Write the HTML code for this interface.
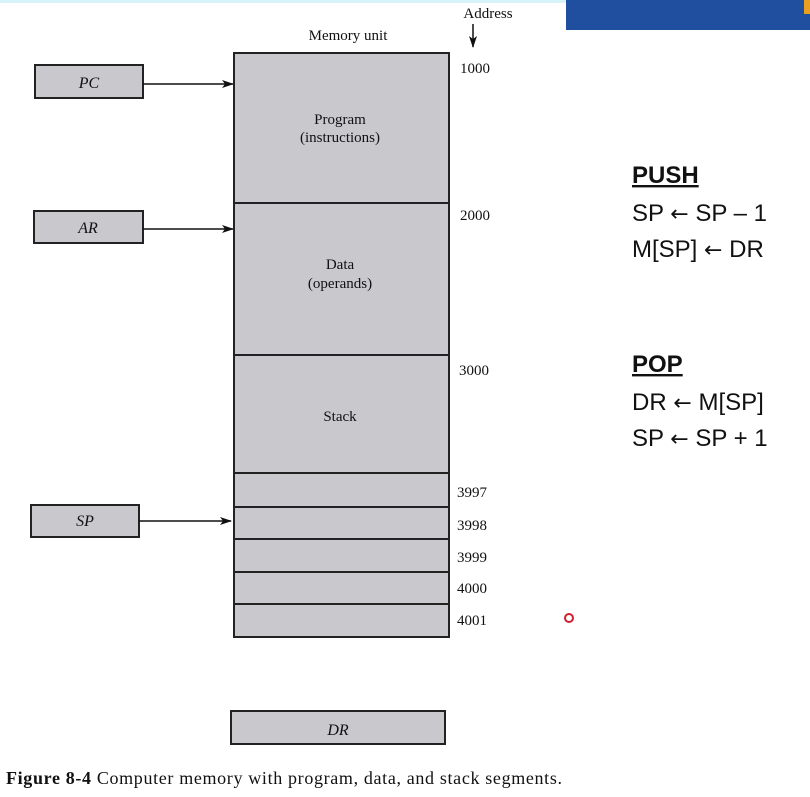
<!DOCTYPE html>
<html><head><meta charset="utf-8"><style>
html,body{margin:0;padding:0;background:#fff;}
body{width:810px;height:797px;overflow:hidden;position:relative;}
svg{position:absolute;left:0;top:0;}
.s{font-family:"Liberation Serif",serif;fill:#111;}
.r{font-family:"Liberation Sans",sans-serif;fill:#111;font-size:24px;}
.ar{font-family:"DejaVu Sans",sans-serif;font-size:22px;}
</style></head><body>
<svg width="810" height="797" viewBox="0 0 810 797">
<defs><marker id="a" markerWidth="12" markerHeight="8" refX="11" refY="4" orient="auto" markerUnits="userSpaceOnUse"><path d="M0,0 L12,4 L0,8 L3,4 z" fill="#111"/></marker></defs>
<rect x="0" y="0" width="566" height="3" fill="#d8f4fa"/>
<rect x="566" y="0" width="244" height="30" fill="#1f4f9e"/>
<rect x="804" y="0" width="6" height="14" fill="#e8a020"/>
<g stroke="#222" stroke-width="2" fill="#c8c8cd">
<rect x="35" y="65" width="108" height="33"/>
<rect x="34" y="211" width="109" height="32"/>
<rect x="31" y="505" width="108" height="32"/>
<rect x="234" y="53" width="215" height="584"/>
<rect x="231" y="711" width="214" height="33"/>
</g>
<g stroke="#222" stroke-width="2">
<line x1="234" y1="203" x2="449" y2="203"/>
<line x1="234" y1="355" x2="449" y2="355"/>
<line x1="234" y1="473" x2="449" y2="473"/>
<line x1="234" y1="507" x2="449" y2="507"/>
<line x1="234" y1="539" x2="449" y2="539"/>
<line x1="234" y1="572" x2="449" y2="572"/>
<line x1="234" y1="604" x2="449" y2="604"/>
</g>
<g stroke="#111" stroke-width="1.5" marker-end="url(#a)">
<line x1="143" y1="84" x2="233" y2="84"/>
<line x1="143" y1="229" x2="233" y2="229"/>
<line x1="139" y1="521" x2="231" y2="521"/>
<line x1="473" y1="24" x2="473" y2="47"/>
</g>
<g class="s" font-size="16" font-style="italic" text-anchor="middle">
<text x="89" y="88">PC</text><text x="88" y="233">AR</text><text x="85" y="526">SP</text><text x="338" y="735">DR</text>
</g>
<g class="s" font-size="15" text-anchor="middle">
<text x="348" y="40">Memory unit</text>
<text x="488" y="18">Address</text>
<text x="340" y="124">Program</text><text x="340" y="142">(instructions)</text>
<text x="340" y="269">Data</text><text x="340" y="288">(operands)</text>
<text x="340" y="421">Stack</text>
</g>
<g class="s" font-size="15">
<text x="460" y="73">1000</text><text x="460" y="220">2000</text><text x="459" y="375">3000</text>
<text x="457" y="497">3997</text><text x="457" y="530">3998</text><text x="457" y="562">3999</text>
<text x="457" y="593">4000</text><text x="457" y="625">4001</text>
<text x="6" y="784" font-size="18" textLength="556" lengthAdjust="spacing"><tspan font-weight="bold">Figure 8-4</tspan>   Computer memory with program, data, and stack segments.</text>
</g>
<g class="r">
<text x="632" y="183" font-weight="bold" text-decoration="underline">PUSH</text>
<text x="632" y="221">SP <tspan class="ar">←</tspan> SP – 1</text>
<text x="632" y="257">M[SP] <tspan class="ar">←</tspan> DR</text>
<text x="632" y="372" font-weight="bold" text-decoration="underline">POP</text>
<text x="632" y="410">DR <tspan class="ar">←</tspan> M[SP]</text>
<text x="632" y="446">SP <tspan class="ar">←</tspan> SP + 1</text>
</g>
<circle cx="569" cy="618" r="4" fill="none" stroke="#d02030" stroke-width="2"/>
</svg>
</body></html>
